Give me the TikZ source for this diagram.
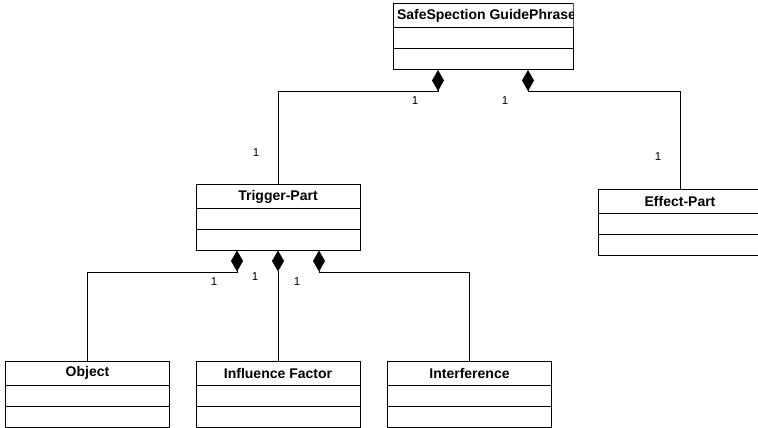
\documentclass[tikz,border=0pt]{standalone}
\usepackage{fontspec}
\setmainfont{Liberation Sans}
\usetikzlibrary{positioning,arrows.meta}

\begin{document}
\begin{tikzpicture}[x=1pt,y=-1pt,
    classname/.style={draw=black,line width=1pt,rectangle,outer sep=0pt,inner sep=0pt,minimum width=164pt,minimum height=24pt,font=\fontsize{14}{16}\selectfont\bfseries},
    classpart/.style={draw=black,line width=1pt,rectangle,outer sep=0pt,inner sep=0pt,minimum width=164pt,minimum height=21pt},
    mult/.style={inner sep=0pt,font=\fontsize{11.5}{12}\selectfont},
    comp/.style={draw=black,line width=0.8pt,-{Diamond[length=21pt,width=12pt]}}]
        \useasboundingbox (0,0) rectangle (758,428);

        % whole
        \begin{scope}
            \clip (388,0) rectangle (573.5,40);
            \node[classname,minimum width=180pt,inner xsep=4pt] (safe) at (483,16) {\makebox[172pt][l]{SafeSpection GuidePhrase}};
        \end{scope}
        \node[classpart,minimum width=180pt,below=0pt of safe] (safeA) {};
        \node[classpart,minimum width=180pt,below=0pt of safeA] (safeB) {};

        % parts
        \node[classname] (trigger) at (278,196.5) {Trigger-Part};
        \node[classpart,below=0pt of trigger] (triggerA) {};
        \node[classpart,below=0pt of triggerA] (triggerB) {};

        \node[classname] (effect) at (680,201) {Effect-Part};
        \node[classpart,below=0pt of effect] (effectA) {};
        \node[classpart,below=0pt of effectA] (effectB) {};

        \node[classname] (object) at (87.5,373) {Object};
        \node[classpart,below=0pt of object] (objectA) {};
        \node[classpart,below=0pt of objectA] (objectB) {};

        \node[classname] (influence) at (278,373) {Influence Factor};
        \node[classpart,below=0pt of influence] (influenceA) {};
        \node[classpart,below=0pt of influenceA] (influenceB) {};

        \node[classname] (interference) at (469.5,373) {Interference};
        \node[classpart,below=0pt of interference] (interferenceA) {};
        \node[classpart,below=0pt of interferenceA] (interferenceB) {};

        \coordinate (safeL) at ([xshift=-45pt]safeB.south);
        \coordinate (safeR) at ([xshift=45pt]safeB.south);
        \coordinate (trigL) at ([xshift=-41pt]triggerB.south);
        \coordinate (trigM) at (triggerB.south);
        \coordinate (trigR) at ([xshift=41pt]triggerB.south);

        \draw[comp] (trigger.north) |- ([yshift=-21pt]safeL) -- (safeL);
        \draw[comp] (effect.north) |- ([yshift=-21pt]safeR) -- (safeR);
        \draw[comp] (object.north) |- ([yshift=-22pt]trigL) -- (trigL);
        \draw[comp] (influence.north) -- (trigM);
        \draw[comp] (interference.north) |- ([yshift=-22pt]trigR) -- (trigR);

        \node[mult] (m1) at (415,101) {1};
        \node[mult] (m2) at (505,101) {1};
        \node[mult] (m3) at (256,153) {1};
        \node[mult] (m4) at (658,157) {1};
        \node[mult] (m5) at (214,282) {1};
        \node[mult] (m6) at (255,277) {1};
        \node[mult] (m7) at (297,282) {1};
\end{tikzpicture}
\end{document}
